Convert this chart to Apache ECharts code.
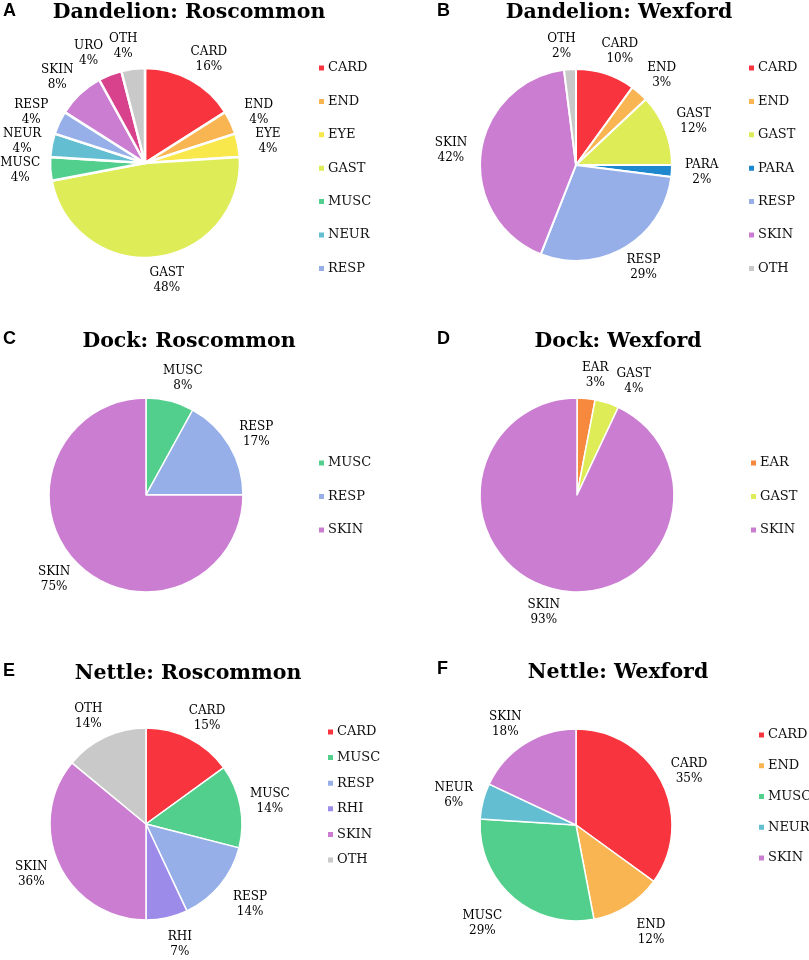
<!DOCTYPE html>
<html>
<head>
<meta charset="utf-8">
<script src="https://cdn.jsdelivr.net/npm/echarts@6/dist/echarts.min.js"></script>
<style>
html, body { margin: 0; padding: 0; background: #fff; }
#main { width: 809px; height: 960px; }
</style>
</head>
<body>
<div id="main"></div>
<script>
// A  Dandelion: Roscommon
var a_names = ['CARD', 'END', 'EYE', 'GAST', 'MUSC', 'NEUR', 'RESP', 'SKIN', 'URO', 'OTH'];
var a_values = [16, 4, 4, 48, 4, 4, 4, 8, 4, 4];
var a_legend = ['CARD', 'END', 'EYE', 'GAST', 'MUSC', 'NEUR', 'RESP'];  // legend in the figure is cut after RESP
// B  Dandelion: Wexford
var b_names = ['CARD', 'END', 'GAST', 'PARA', 'RESP', 'SKIN', 'OTH'];
var b_values = [10, 3, 12, 2, 29, 42, 2];
// C  Dock: Roscommon
var c_names = ['MUSC', 'RESP', 'SKIN'];
var c_values = [8, 17, 75];
// D  Dock: Wexford
var d_names = ['EAR', 'GAST', 'SKIN'];
var d_values = [3, 4, 93];
// E  Nettle: Roscommon
var e_names = ['CARD', 'MUSC', 'RESP', 'RHI', 'SKIN', 'OTH'];
var e_values = [15, 14, 14, 7, 36, 14];
// F  Nettle: Wexford
var f_names = ['CARD', 'END', 'MUSC', 'NEUR', 'SKIN'];
var f_values = [35, 12, 29, 6, 18];

var titles = ['Dandelion: Roscommon', 'Dandelion: Wexford', 'Dock: Roscommon', 'Dock: Wexford', 'Nettle: Roscommon', 'Nettle: Wexford'];
var letters = ['A', 'B', 'C', 'D', 'E', 'F'];

// 每个类别一个颜色，各个饼图共用
var colors = {
  CARD: '#F8353E', END: '#F9B552', EYE: '#F8E84C', GAST: '#DEEC57', MUSC: '#53CF8D',
  NEUR: '#63BED2', RESP: '#96AFE8', SKIN: '#CB7DD2', URO: '#D8428C', OTH: '#C9C9C9',
  PARA: '#1E88CF', RHI: '#9D8BEA', EAR: '#F7893E'
};

// 布局: 饼图中心/半径, 标题位置, 图例位置
var panels = [
  {names: a_names, values: a_values, legend: a_legend, center: [145, 163], r: 95, border: 2.5,
   titleX: 189, titleY: 2, letterX: 3, letterY: 2.5, legendX: 317, legendY: 60, legendGap: 17.4,
   tweak: {URO: {length: 23, length2: 13}}},
  {names: b_names, values: b_values, legend: b_names, center: [576, 165], r: 96, border: 2,
   titleX: 619, titleY: 2, letterX: 437, letterY: 2.5, legendX: 747, legendY: 60, legendGap: 17.4},
  {names: c_names, values: c_values, legend: c_names, center: [146, 495], r: 97, border: 1.5,
   titleX: 189, titleY: 331, letterX: 3, letterY: 330.5, legendX: 317, legendY: 455, legendGap: 17.5},
  {names: d_names, values: d_values, legend: d_names, center: [577, 495], r: 97, border: 1.5,
   titleX: 618, titleY: 331, letterX: 437, letterY: 330.5, legendX: 749, legendY: 455, legendGap: 17.5,
   tweak: {GAST: {length: 22, length2: 20}}},
  {names: e_names, values: e_values, legend: e_names, center: [146, 824], r: 96, border: 1.5,
   titleX: 188, titleY: 663, letterX: 3, letterY: 662.5, legendX: 326, legendY: 724, legendGap: 9.6,
   tweak: {RESP: {length: 30, length2: 7}, RHI: {length: 27, length2: 7}}},
  {names: f_names, values: f_values, legend: f_names, center: [576, 825], r: 96, border: 1.5,
   titleX: 618, titleY: 662, letterX: 437, letterY: 660, legendX: 757, legendY: 727, legendGap: 14.75,
   tweak: {MUSC: {length: 35, length2: 7}, END: {length: 31, length2: 7}}}
];

var title_list = [];
var legend_list = [];
var series_list = [];

panels.forEach(function(p, i){
  title_list.push({
    text: titles[i], left: p.titleX, top: p.titleY, textAlign: 'center', padding: 0,
    textStyle: {fontFamily: 'DejaVu Serif', fontWeight: 'bold', fontSize: 20.5, color: '#000', lineHeight: 21}
  });
  title_list.push({
    text: letters[i], left: p.letterX, top: p.letterY, padding: 0,
    textStyle: {fontFamily: 'Liberation Sans', fontWeight: 'bold', fontSize: 18, color: '#000', lineHeight: 18}
  });
  legend_list.push({
    data: p.legend, orient: 'vertical', left: p.legendX, top: p.legendY, padding: 0,
    itemGap: p.legendGap, itemWidth: 7, itemHeight: 7, icon: 'rect', selectedMode: false,
    textStyle: {fontFamily: 'DejaVu Serif', fontSize: 13, color: '#111', lineHeight: 16, padding: [0, 0, 0, -2]}
  });
  let data = [];
  let k;
  for(k=0; k<p.names.length; k++){
    let item = {name: p.names[k], value: p.values[k], itemStyle: {color: colors[p.names[k]]}};
    // 个别标签挪一下，避免重叠
    if(p.tweak && p.tweak[p.names[k]]){
      item.labelLine = p.tweak[p.names[k]];
    }
    data.push(item);
  }
  series_list.push({
    type: 'pie',
    center: p.center,
    radius: p.r,
    startAngle: 90,
    clockwise: true,
    avoidLabelOverlap: false,
    itemStyle: {borderColor: '#fff', borderWidth: p.border},
    label: {
      show: true, position: 'outside', formatter: '{b}\n{c}%',
      fontFamily: 'DejaVu Serif', fontSize: 12, lineHeight: 15, color: '#000',
      distanceToLabelLine: 0
    },
    labelLine: {show: false, length: 23, length2: 7},
    labelLayout: {align: 'center', verticalAlign: 'middle', hideOverlap: false, moveOverlap: null},
    emphasis: {disabled: true},
    data: data
  });
});

var chart = echarts.init(document.getElementById('main'));
chart.setOption({
  animation: false,
  backgroundColor: '#fff',
  title: title_list,
  legend: legend_list,
  series: series_list
});
</script>
</body>
</html>
